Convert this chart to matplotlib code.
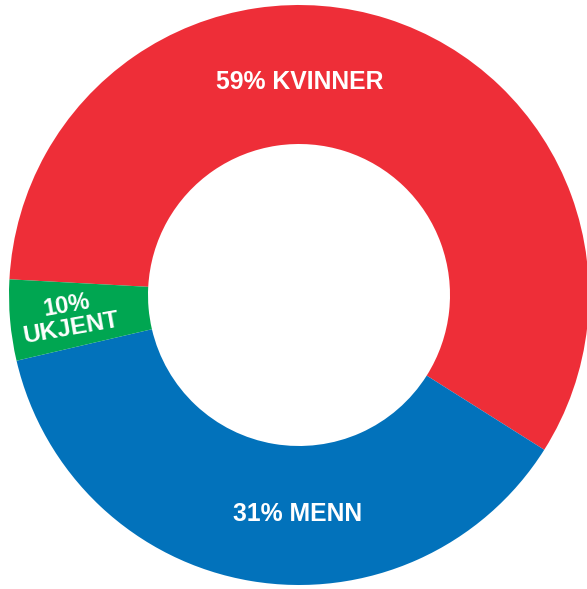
import matplotlib
matplotlib.use("Agg")
import matplotlib.pyplot as plt

# Data (wedge shares as drawn in the picture; label texts as printed)
categories = ["KVINNER", "MENN", "UKJENT"]
shares = [58.1, 37.4, 4.5]
labels = ["59% KVINNER", "31% MENN", "10%\nUKJENT"]
colors = ["#EE2E38", "#0272BB", "#00A651"]

W, H = 587, 589
fig = plt.figure(figsize=(W / 100, H / 100), dpi=100)
ax = fig.add_axes([0, 0, 1, 1])

cx, cy, R = 299.0, 295.0, 290.0
ax.pie(shares, colors=colors, startangle=176.9, counterclock=False,
       radius=1.0, wedgeprops=dict(width=1 - 151 / R, linewidth=0))
ax.set_xlim(-cx / R, (W - cx) / R)
ax.set_ylim(-(H - cy) / R, cy / R)
ax.set_aspect("auto")
ax.axis("off")

font = dict(family=["Liberation Sans", "DejaVu Sans"], weight="bold", color="white")

def px(x, y):
    return x / W, 1 - y / H

ax.text(*px(300, 82), labels[0], transform=ax.transAxes, ha="center", va="center", fontsize=17.8, **font)
ax.text(*px(298, 514), labels[1], transform=ax.transAxes, ha="center", va="center", fontsize=17.8, **font)
top, bottom = labels[2].split("\n")
ax.text(*px(67, 305), top, transform=ax.transAxes, ha="center", va="center", fontsize=17,
        rotation=10, rotation_mode="anchor", **font)
ax.text(*px(71, 328), bottom, transform=ax.transAxes, ha="center", va="center", fontsize=17.5,
        rotation=10, rotation_mode="anchor", **font)

fig.savefig("out.png", dpi=100)
